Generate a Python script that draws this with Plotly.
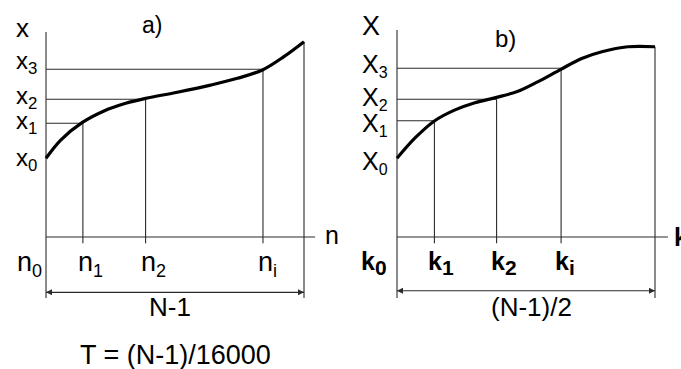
import plotly.graph_objects as go

# ---------------- data (normalised units: axis length = 1) ----------------
# Panel a)  x(n)
curve_a_n = [0.0, 0.057, 0.141, 0.225, 0.309, 0.386, 0.509, 0.638, 0.742, 0.839, 0.922, 1.0]
curve_a_x = [0.384, 0.473, 0.559, 0.615, 0.652, 0.676, 0.706, 0.741, 0.774, 0.815, 0.880, 0.953]
ticks_a = [0.143, 0.386, 0.841]          # n1, n2, ni
levels_a = [0.384, 0.555, 0.672, 0.818]  # x0, x1, x2, x3
tick_subs_a = ["0", "1", "2", "i"]
level_subs_a = ["0", "1", "2", "3"]
end_a = 1.0

# Panel b)  X(k)
curve_b_k = [0.0, 0.070, 0.145, 0.225, 0.302, 0.386, 0.469, 0.547, 0.635, 0.716, 0.794, 0.895, 1.0]
curve_b_x = [0.384, 0.483, 0.566, 0.620, 0.655, 0.681, 0.711, 0.758, 0.818, 0.871, 0.904, 0.928, 0.928]
ticks_b = [0.145, 0.386, 0.636]          # k1, k2, ki
levels_b = [0.384, 0.567, 0.672, 0.823]  # X0, X1, X2, X3
tick_subs_b = ["0", "1", "2", "i"]
level_subs_b = ["0", "1", "2", "3"]
end_b = 1.0

# ---------------- layout geometry ----------------
W, H = 681, 369
SX = 258.0   # px per unit (horizontal)
SY = 205.0   # px per unit (vertical)
ORIG_A = 46.0
ORIG_B = 397.0
ORIG_Y = 237.0

Y_TOP_A, Y_TOP_B = 1.0, 1.01
Y_BOT = -0.298
TICK_BOT = -0.03
DIM_Y_A, DIM_Y_B = -0.27, -0.262
AX_END_A, AX_END_B = 1.043, 1.05

FONT = "Liberation Sans, Arial, sans-serif"
LINE = dict(color="#2a2a2a", width=1.1)

fig = go.Figure()


def add_panel(xa, curve_x, curve_y, ticks, levels, end, ytop, axend, dim_y):
    fig.add_trace(go.Scatter(x=[0, 0], y=[ytop, Y_BOT], mode="lines", line=LINE, xaxis=xa, yaxis="y", hoverinfo="skip"))
    fig.add_trace(go.Scatter(x=[0, axend], y=[0, 0], mode="lines", line=LINE, xaxis=xa, yaxis="y", hoverinfo="skip"))
    xs, ys = [], []
    for t, lv in zip(ticks, levels[1:]):
        xs += [t, t, None]
        ys += [lv, TICK_BOT, None]
    xs += [end, end, None]
    ys += [curve_y[-1], Y_BOT, None]
    for t, lv in zip(ticks, levels[1:]):
        xs += [0, t, None]
        ys += [lv, lv, None]
    xs += [0, end, None]
    ys += [dim_y, dim_y, None]
    fig.add_trace(go.Scatter(x=xs, y=ys, mode="lines", line=LINE, xaxis=xa, yaxis="y", hoverinfo="skip"))
    fig.add_trace(go.Scatter(x=curve_x, y=curve_y, mode="lines",
                             line=dict(color="black", width=3.2, shape="spline", smoothing=1.0),
                             xaxis=xa, yaxis="y", hoverinfo="skip"))
    # dimension arrow heads
    fig.add_trace(go.Scatter(x=[0, end], y=[dim_y, dim_y], mode="markers",
                             marker=dict(symbol=["arrow-left", "arrow-right"], size=6, color="#2a2a2a",
                                         line=dict(width=0)),
                             xaxis=xa, yaxis="y", hoverinfo="skip"))


add_panel("x", curve_a_n, curve_a_x, ticks_a, levels_a, end_a, Y_TOP_A, AX_END_A, DIM_Y_A)
add_panel("x2", curve_b_k, curve_b_x, ticks_b, levels_b, end_b, Y_TOP_B, AX_END_B, DIM_Y_B)


def ann(text, x, y, xref, size, xanchor="center", yanchor="middle", xshift=0, yshift=0, bold=False):
    fig.add_annotation(text=f"<b>{text}</b>" if bold else text, x=x, y=y, xref=xref, yref="y",
                       showarrow=False, xanchor=xanchor, yanchor=yanchor,
                       xshift=xshift, yshift=yshift,
                       font=dict(family=FONT, size=size, color="black"))


def sub(s, px=None):
    if px is None:
        return f"<sub>{s}</sub>"
    return f"<sub><span style='font-size:{px}px'>{s}</span></sub>"


# panel a labels
ann("x", 0, Y_TOP_A, "x", 26, xanchor="right", xshift=-15, yshift=4)
dy_a = [-1, 1, 2, 7]
for lv, s, dy in zip(levels_a, level_subs_a, dy_a):
    ann("x" + sub(s), 0, lv, "x", 24, xanchor="right", xshift=-7, yshift=dy)
ann("n" + sub(tick_subs_a[0], 18), 0, 0, "x", 27, xanchor="right", xshift=-2, yshift=-27)
for t, s in zip(ticks_a, tick_subs_a[1:]):
    ann("n" + sub(s, 18), t, 0, "x", 27, xanchor="left", xshift=-7, yshift=-27)
ann("n", AX_END_A, 0, "x", 25, xanchor="left", xshift=8, yshift=2)
ann("a)", 0.411, Y_TOP_A, "x", 23, yshift=7)
ann("N-1", end_a / 2, DIM_Y_A, "x", 26, xshift=-5, yshift=-15)
ann("T = (N-1)/16000", end_a / 2, DIM_Y_A, "x", 27, yshift=-63)

# panel b labels
ann("X", 0, Y_TOP_B, "x2", 27, xanchor="right", xshift=-15, yshift=4)
dy_b = [-4, -4, 1, 3]
for lv, s, dy in zip(levels_b, level_subs_b, dy_b):
    ann("X" + sub(s, 16), 0, lv, "x2", 25, xanchor="right", xshift=-7, yshift=dy)
ann("k" + sub(tick_subs_b[0], 21), 0, 0, "x2", 25, xanchor="right", xshift=-8, yshift=-26, bold=True)
for t, s in zip(ticks_b, tick_subs_b[1:]):
    ann("k" + sub(s, 21), t, 0, "x2", 25, xanchor="left", xshift=-8, yshift=-26, bold=True)
ann("k", AX_END_B, 0, "x2", 25, xanchor="left", xshift=4, yshift=0, bold=True)
ann("b)", 0.42, Y_TOP_B, "x2", 24, yshift=-9)
ann("(N-1)/2", end_b / 2, DIM_Y_B, "x2", 26, xshift=5, yshift=-16)

fig.update_layout(
    width=W, height=H, autosize=False,
    margin=dict(l=0, r=0, t=0, b=0),
    paper_bgcolor="white", plot_bgcolor="white",
    showlegend=False,
    xaxis=dict(range=[-ORIG_A / SX, (W - ORIG_A) / SX], visible=False, domain=[0, 1], fixedrange=True),
    xaxis2=dict(range=[-ORIG_B / SX, (W - ORIG_B) / SX], visible=False, overlaying="x", anchor="y",
                domain=[0, 1], fixedrange=True),
    yaxis=dict(range=[-(H - ORIG_Y) / SY, ORIG_Y / SY], visible=False, domain=[0, 1], fixedrange=True),
)

fig.write_html("out.html", config={"displayModeBar": False},
               post_script="document.body.style.margin='0px';document.body.style.overflow='hidden';")
